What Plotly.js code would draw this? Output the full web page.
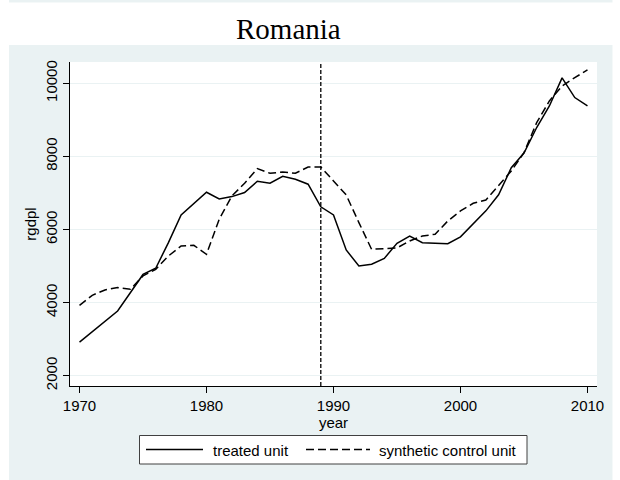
<!DOCTYPE html>
<html>
<head>
<meta charset="utf-8">
<script src="https://cdn.plot.ly/plotly-3.0.1.min.js"></script>
<style>
  html, body { margin: 0; padding: 0; background: #fff; }
  #chart { width: 620px; height: 480px; }
</style>
</head>
<body>
<div id="chart"></div>
<script>
// data
const years = [1970, 1971, 1972, 1973, 1974, 1975, 1976, 1977, 1978, 1979,
               1980, 1981, 1982, 1983, 1984, 1985, 1986, 1987, 1988, 1989,
               1990, 1991, 1992, 1993, 1994, 1995, 1996, 1997, 1998, 1999,
               2000, 2001, 2002, 2003, 2004, 2005, 2006, 2007, 2008, 2009, 2010];

const treated = [2920, 3200, 3500, 3770, 4270, 4770, 4940, 5640, 6400, 6710,
                 7020, 6835, 6900, 7010, 7320, 7265, 7455, 7375, 7240, 6620,
                 6400, 5440, 5000, 5050, 5210, 5620, 5820, 5640, 5620, 5610,
                 5800, 6160, 6510, 6950, 7690, 8090, 8790, 9380, 10150, 9610, 9380];

const synthetic = [3926, 4200, 4346, 4410, 4364, 4729, 4911, 5276, 5550, 5568,
                   5322, 6279, 6918, 7264, 7665, 7538, 7574, 7538, 7711, 7711,
                   7328, 6945, 6188, 5458, 5476, 5495, 5687, 5823, 5869, 6233,
                   6507, 6717, 6808, 7191, 7602, 8103, 8924, 9517, 9927, 10155, 10365];

const treatYear = 1989;
const xTicks = [1970, 1980, 1990, 2000, 2010];
const yTicks = [2000, 4000, 6000, 8000, 10000];
const yTickText = ['2000', '4000', '6000', '8000', '10000'];
const seriesNames = ['treated unit', 'synthetic control unit'];
const chartTitle = 'Romania';

// Stata s2color-ish look
const BLUISH = '#EAF2F3';
const FONT = 'Liberation Sans, Arial, sans-serif';
const DASH = '8px,4px';

// plot box in page pixels, helpers to turn page px into paper coords
const W = 620, H = 480;
const M = { l: 70, r: 23, t: 62, b: 94 };
const PW = W - M.l - M.r, PH = H - M.t - M.b;
const px = x => (x - M.l) / PW;
const py = y => (H - M.b - y) / PH;

function paperRect(x0, y0, x1, y1, extra) {
  return Object.assign({
    type: 'rect', xref: 'paper', yref: 'paper',
    x0: px(x0), x1: px(x1), y0: py(y1), y1: py(y0),
    fillcolor: '#fff', line: { width: 0 }, layer: 'below',
  }, extra || {});
}

function paperLine(x0, x1, y, dash) {
  return {
    type: 'line', xref: 'paper', yref: 'paper',
    x0: px(x0), x1: px(x1), y0: py(y), y1: py(y),
    line: { color: '#000', width: 1.5, dash: dash },
    layer: 'above',
  };
}

const traces = [
  {
    name: seriesNames[0],
    x: years, y: treated,
    type: 'scatter', mode: 'lines',
    line: { color: '#000', width: 1.5 },
  },
  {
    name: seriesNames[1],
    x: years, y: synthetic,
    type: 'scatter', mode: 'lines',
    line: { color: '#000', width: 1.5, dash: DASH },
  },
];

const shapes = [
  // white frame around the bluish graph region
  paperRect(0, 0, 9, 480),
  paperRect(612.5, 0, 620, 480),
  paperRect(0, 2.5, 620, 45),
  // treatment year marker
  {
    type: 'line', xref: 'x', yref: 'paper',
    x0: treatYear, x1: treatYear, y0: 0, y1: 1,
    line: { color: '#000', width: 1.3, dash: '4px,2px' },
    layer: 'above',
  },
  // hand-made legend (Stata style, long samples)
  paperRect(139.5, 435.5, 527, 464, { line: { color: '#404040', width: 1 }, layer: 'above' }),
  paperLine(146, 203, 449.5, 'solid'),
  paperLine(306, 370, 449.5, DASH),
];

const annotations = [
  {
    text: chartTitle, showarrow: false,
    xref: 'paper', yref: 'paper', x: px(288), y: py(29),
    xanchor: 'center', yanchor: 'middle',
    font: { family: 'Liberation Serif, Times New Roman, serif', size: 29, color: '#000' },
  },
  {
    text: seriesNames[0], showarrow: false,
    xref: 'paper', yref: 'paper', x: px(211), y: py(450),
    xanchor: 'left', yanchor: 'middle',
    font: { family: FONT, size: 15, color: '#000' },
  },
  {
    text: seriesNames[1], showarrow: false,
    xref: 'paper', yref: 'paper', x: px(377), y: py(450),
    xanchor: 'left', yanchor: 'middle',
    font: { family: FONT, size: 15, color: '#000' },
  },
];

const layout = {
  width: W, height: H,
  margin: M,
  paper_bgcolor: BLUISH,
  plot_bgcolor: '#fff',
  font: { family: FONT, size: 15, color: '#000' },
  showlegend: false,
  xaxis: {
    range: [1969.25, 2010.75],
    tickvals: xTicks,
    ticks: 'outside', ticklen: 6, tickcolor: '#000', tickwidth: 1,
    showline: true, linecolor: '#000', linewidth: 1,
    showgrid: false, zeroline: false,
    automargin: false,
    tickfont: { size: 15 },
    title: { text: 'year', font: { size: 15 }, standoff: 2 },
  },
  yaxis: {
    range: [1718, 10583],
    tickvals: yTicks,
    ticktext: yTickText,
    tickangle: -90,
    ticks: 'outside', ticklen: 6, tickcolor: '#000', tickwidth: 1,
    showline: true, linecolor: '#000', linewidth: 1,
    showgrid: true, gridcolor: BLUISH, gridwidth: 1.2,
    zeroline: false,
    automargin: false,
    tickfont: { size: 15 },
    title: { text: 'rgdpl', font: { size: 15 }, standoff: 2 },
  },
  shapes: shapes,
  annotations: annotations,
};

Plotly.newPlot('chart', traces, layout, { displayModeBar: false, staticPlot: true });
</script>
</body>
</html>
